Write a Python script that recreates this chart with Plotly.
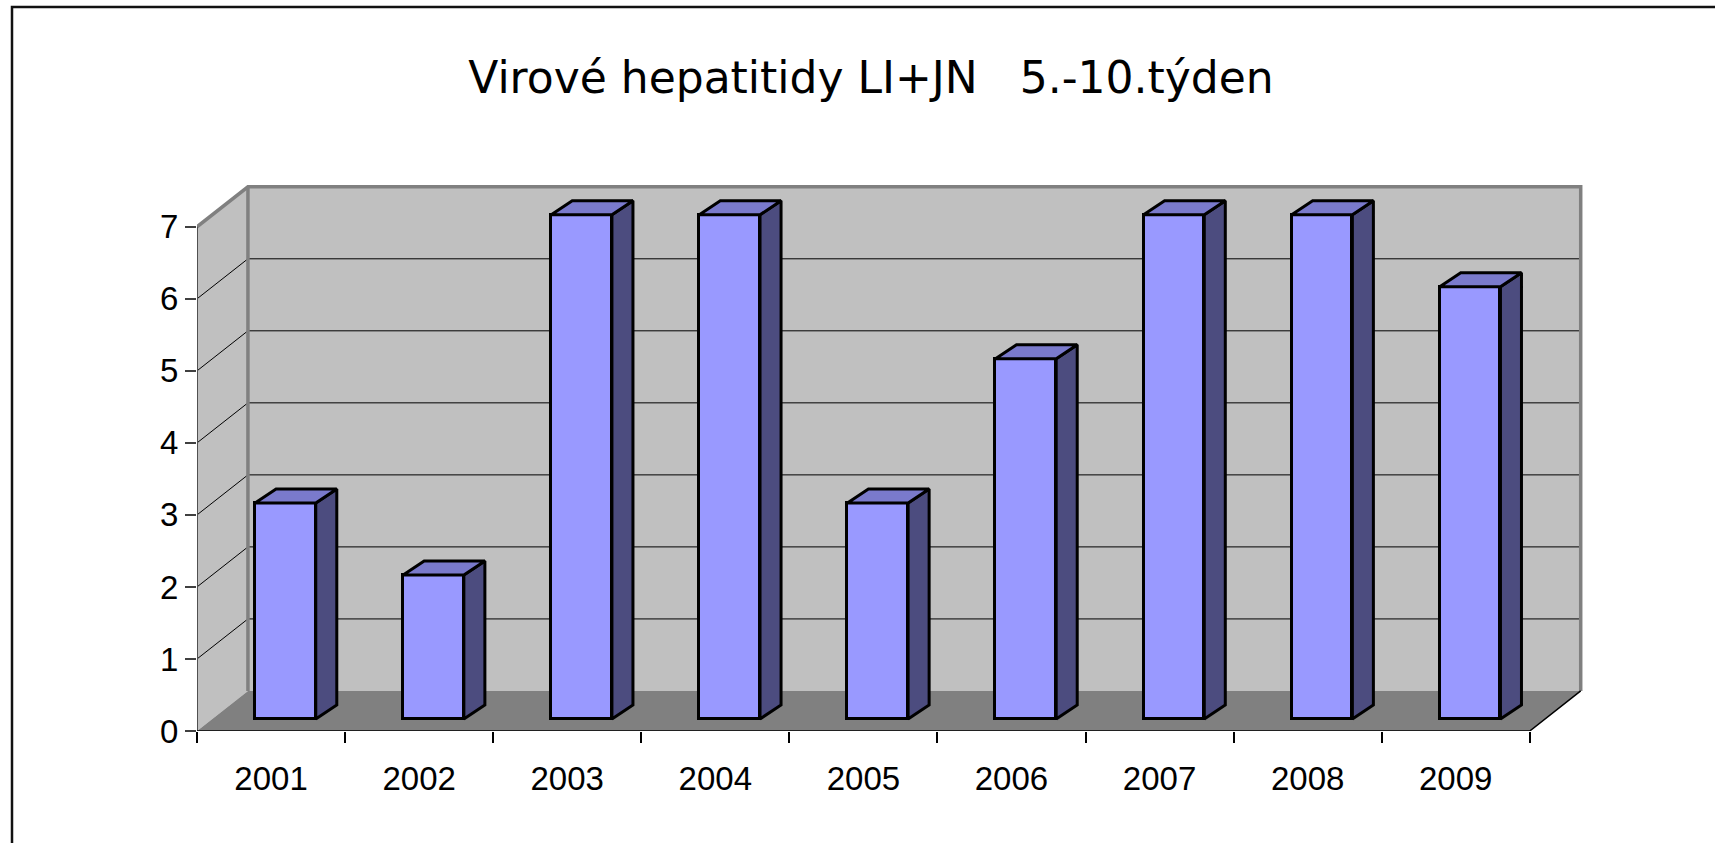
import plotly.graph_objects as go

# ---------------- data ----------------
years = ["2001", "2002", "2003", "2004", "2005", "2006", "2007", "2008", "2009"]
cases = [3, 2, 7, 7, 3, 5, 7, 7, 6]
y_ticks = [0, 1, 2, 3, 4, 5, 6, 7]
title_text = "Virové hepatitidy LI+JN\u00a0\u00a0\u00a05.-10.týden"

# ---------------- layout constants ----------------
W, H = 1715, 843
ML, MT, MR, MB = 197, 180, 126, 112
X0, X1 = -0.5, 8.9
Y0, Y1 = 0, 7.65
YMAX = 7

# 3-D depth offsets in data units
DX, DY = 0.344, 0.556      # back wall offset
FX, FY = 0.097, 0.167      # bar front-face offset
BX, BY = 0.142, 0.194      # bar depth
BW = 0.41                  # bar width

FRONT = "#9999FF"
TOP = "#7A7ACC"
SIDE = "#4C4C7F"
WALL = "#C0C0C0"
FLOOR = "#808080"
EDGE = "#808080"

n = len(years)
xs = list(range(n))
xl, xr = -0.5, n - 0.5


def path(pts, close=True):
    s = "M " + " L ".join(f"{x},{y}" for x, y in pts)
    return s + (" Z" if close else "")


shapes = []
# side wall
shapes.append(dict(type="path", xref="x", yref="y", layer="below",
                   path=path([(xl, 0), (xl + DX, DY), (xl + DX, YMAX + DY), (xl, YMAX)]),
                   fillcolor=WALL, line=dict(width=0)))
# back wall
shapes.append(dict(type="path", xref="x", yref="y", layer="below",
                   path=path([(xl + DX, DY), (xr + DX, DY), (xr + DX, YMAX + DY), (xl + DX, YMAX + DY)]),
                   fillcolor=WALL, line=dict(width=0)))
# floor
shapes.append(dict(type="path", xref="x", yref="y", layer="below",
                   path=path([(xl, 0), (xr, 0), (xr + DX, DY), (xl + DX, DY)]),
                   fillcolor=FLOOR, line=dict(width=0)))
# gridlines
for v in y_ticks[1:-1]:
    shapes.append(dict(type="path", xref="x", yref="y", layer="below",
                       path=path([(xl, v), (xl + DX, v + DY), (xr + DX, v + DY)], close=False),
                       line=dict(color="black", width=1)))
# wall edges
shapes.append(dict(type="path", xref="x", yref="y", layer="below",
                   path=path([(xl, YMAX), (xl + DX, YMAX + DY), (xr + DX, YMAX + DY), (xr + DX, DY)], close=False),
                   line=dict(color=EDGE, width=3.5)))
shapes.append(dict(type="path", xref="x", yref="y", layer="below",
                   path=path([(xl + DX, DY), (xl + DX, YMAX + DY)], close=False),
                   line=dict(color=EDGE, width=3.5)))
# front-left value axis line
shapes.append(dict(type="path", xref="x", yref="y", layer="below",
                   path=path([(xl, 0), (xl, YMAX)], close=False),
                   line=dict(color="#505050", width=2)))
# floor front + right edge (category axis)
shapes.append(dict(type="path", xref="x", yref="y", layer="below",
                   path=path([(xl, 0), (xr, 0), (xr + DX, DY)], close=False),
                   line=dict(color="black", width=1.5)))

# outer frame (paper coords derived from margins)
pw = W - ML - MR
ph = H - MT - MB
def px2paper_x(px):
    return (px - ML) / pw
def py2paper_y(py):
    return (H - MB - py) / ph
shapes.append(dict(type="rect", xref="paper", yref="paper", layer="above",
                   x0=px2paper_x(12), x1=px2paper_x(W + 20),
                   y0=py2paper_y(H + 20), y1=py2paper_y(7),
                   line=dict(color="#111111", width=2.5), fillcolor="rgba(0,0,0,0)"))

fig = go.Figure()

# bar front faces
fig.add_trace(go.Bar(
    x=[x + FX for x in xs], y=cases, base=FY, width=BW,
    marker=dict(color=FRONT, line=dict(color="black", width=3)),
    hoverinfo="skip", showlegend=False,
))

# bar side faces
sx, sy = [], []
for x, v in zip(xs, cases):
    r = x + FX + BW / 2
    sx += [r, r + BX, r + BX, r, r, None]
    sy += [FY, FY + BY, FY + BY + v, FY + v, FY, None]
fig.add_trace(go.Scatter(x=sx, y=sy, mode="lines", fill="toself", fillcolor=SIDE,
                         line=dict(color="black", width=3), hoverinfo="skip", showlegend=False))

# bar top faces
tx, ty = [], []
for x, v in zip(xs, cases):
    l = x + FX - BW / 2
    r = x + FX + BW / 2
    top = FY + v
    tx += [l, r, r + BX, l + BX, l, None]
    ty += [top, top, top + BY, top + BY, top, None]
fig.add_trace(go.Scatter(x=tx, y=ty, mode="lines", fill="toself", fillcolor=TOP,
                         line=dict(color="black", width=3), hoverinfo="skip", showlegend=False))

tick_font = dict(family="Liberation Sans, Arial, sans-serif", size=33, color="black")

fig.update_layout(
    width=W, height=H,
    margin=dict(l=ML, r=MR, t=MT, b=MB, pad=0),
    paper_bgcolor="white", plot_bgcolor="white",
    shapes=shapes,
    title=dict(text=title_text, x=871 / W, xref="container", xanchor="center",
               y=1 - 78 / H, yref="container", yanchor="middle",
               font=dict(family="DejaVu Sans, sans-serif", size=44, color="black")),
    xaxis=dict(range=[X0, X1], showgrid=False, zeroline=False, showline=False,
               tickvals=xs, ticktext=years, ticks="outside", ticklen=11,
               tickcolor="rgba(0,0,0,0)", tickfont=tick_font, ticklabelstandoff=7,
               minor=dict(tickvals=[x - 0.5 for x in range(n + 1)], ticks="outside",
                          ticklen=11, tickcolor="black", tickwidth=1.5, showgrid=False)),
    yaxis=dict(range=[Y0, Y1], showgrid=False, zeroline=False, showline=False,
               tickvals=y_ticks, ticks="outside", ticklen=11, tickcolor="#404040",
               tickwidth=1.5, tickfont=tick_font, ticklabelstandoff=0),
    bargap=0, showlegend=False,
)

fig.write_html("out.html",
               config={"displayModeBar": False},
               post_script="document.body.style.margin='0';document.body.style.overflow='hidden';")
